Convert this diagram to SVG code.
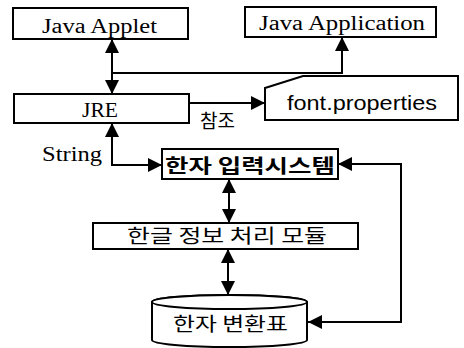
<svg xmlns="http://www.w3.org/2000/svg" width="464" height="348" viewBox="0 0 464 348">
<style>
.box{fill:#fff;stroke:#000;stroke-width:2}
.ln{fill:none;stroke:#000;stroke-width:2}
.ser{font-family:"Liberation Serif","DejaVu Serif",serif;font-size:20px;fill:#000}
.san{font-family:"Liberation Sans","DejaVu Sans",sans-serif;font-size:20px;fill:#000}
.kr{font-family:"Noto Sans CJK KR",sans-serif;font-size:19px;fill:#000}
</style>
<defs>
<marker id="ah" viewBox="0 0 14 14" markerWidth="14" markerHeight="14" refX="14" refY="7" markerUnits="userSpaceOnUse" orient="auto-start-reverse">
<path d="M0,0 L14,7 L0,14 z" fill="#000"/>
</marker>
</defs>
<rect width="464" height="348" fill="#fff"/>
<g id="connectors">
<line class="ln" x1="112" y1="39" x2="112" y2="94" marker-start="url(#ah)" marker-end="url(#ah)"/>
<polyline class="ln" points="112,73 342,73 342,37" marker-end="url(#ah)"/>
<line class="ln" x1="188" y1="103" x2="265" y2="103" marker-end="url(#ah)"/>
<polyline class="ln" points="112,123 112,165 162,165" marker-start="url(#ah)" marker-end="url(#ah)"/>
<line class="ln" x1="229" y1="179" x2="229" y2="223" marker-start="url(#ah)" marker-end="url(#ah)"/>
<line class="ln" x1="228" y1="249" x2="228" y2="295" marker-start="url(#ah)" marker-end="url(#ah)"/>
<polyline class="ln" points="338,164 401,164 401,322 308,322" marker-start="url(#ah)" marker-end="url(#ah)"/>
<text class="kr" x="200" y="128" font-size="18" textLength="35" lengthAdjust="spacingAndGlyphs">참조</text>
<text class="ser" x="42" y="161" textLength="60" lengthAdjust="spacingAndGlyphs">String</text>
</g>
<g id="applet">
<rect class="box" x="13" y="8" width="175" height="31"/>
<text class="ser" x="42" y="33" textLength="115" lengthAdjust="spacingAndGlyphs">Java Applet</text>
</g>
<g id="application">
<rect class="box" x="245" y="7" width="191" height="30"/>
<text class="ser" x="259" y="30" textLength="166" lengthAdjust="spacingAndGlyphs">Java Application</text>
</g>
<g id="jre">
<rect class="box" x="14" y="94" width="175" height="29"/>
<text class="ser" x="82" y="117" textLength="36" lengthAdjust="spacingAndGlyphs">JRE</text>
</g>
<g id="fontprops">
<path class="box" d="M265,88 L303,76 L458,76 L458,120 L265,120 Z"/>
<text class="san" x="287" y="110" textLength="150" lengthAdjust="spacingAndGlyphs">font.properties</text>
</g>
<g id="hanja-input">
<rect class="box" x="162" y="149" width="176" height="30"/>
<text class="kr" x="165" y="173" font-size="20" font-weight="bold" textLength="170" lengthAdjust="spacingAndGlyphs">한자 입력시스템</text>
</g>
<g id="hangul-module">
<rect class="box" x="93" y="223" width="265" height="26"/>
<text class="kr" x="127" y="243" textLength="200" lengthAdjust="spacingAndGlyphs">한글 정보 처리 모듈</text>
</g>
<g id="hanja-table">
<path class="box" d="M152,302 L152,340 A77.5,7 0 0 0 307,340 L307,302 A77.5,7 0 0 0 152,302 Z"/>
<ellipse class="box" cx="229.5" cy="302" rx="77.5" ry="7"/>
<text class="kr" x="173" y="331" font-size="20" textLength="115" lengthAdjust="spacingAndGlyphs">한자 변환표</text>
</g>
</svg>
